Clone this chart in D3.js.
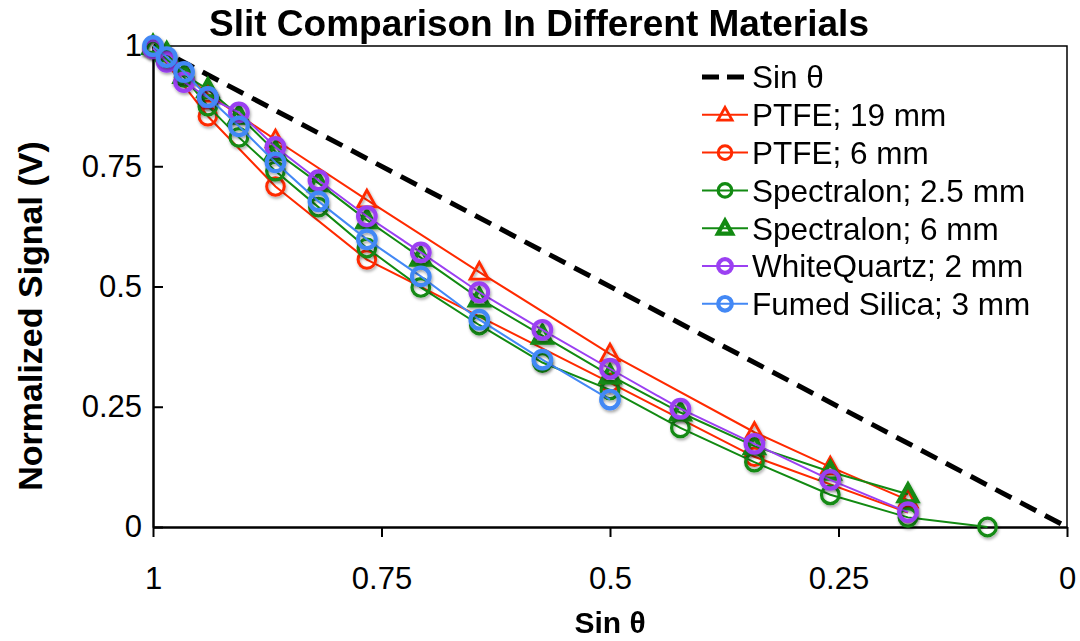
<!DOCTYPE html>
<html>
<head>
<meta charset="utf-8">
<script src="https://cdn.jsdelivr.net/npm/d3@7"></script>
<style>
  html, body { margin: 0; padding: 0; background: #fff; }
  svg { display: block; font-family: "Liberation Sans", Arial, sans-serif; }
</style>
</head>
<body>
<svg id="chart" width="1080" height="641"></svg>
<script>
// ---- data ----
const xTicks = [1, 0.75, 0.5, 0.25, 0];
const xTickLabels = ["1", "0.75", "0.5", "0.25", "0"];
const yTicks = [0, 0.25, 0.5, 0.75, 1];
const yTickLabels = ["0", "0.25", "0.5", "0.75", "1"];

// reference line: signal = sin θ
const sinLineX = [1, 0];
const sinLineY = [1, 0];

const ptfe19X = [1.0, 0.940, 0.866, 0.766, 0.643, 0.500, 0.342, 0.259, 0.174];
const ptfe19Y = [1.0, 0.900, 0.805, 0.680, 0.530, 0.360, 0.197, 0.125, 0.056];

const ptfe6X = [1.0, 0.940, 0.866, 0.766, 0.500, 0.342, 0.174];
const ptfe6Y = [1.0, 0.854, 0.708, 0.556, 0.300, 0.146, 0.030];

const spec25X = [1.0, 0.985, 0.966, 0.940, 0.906, 0.866, 0.819, 0.766, 0.707, 0.643, 0.574, 0.500, 0.423, 0.342, 0.259, 0.174, 0.087];
const spec25Y = [0.995, 0.975, 0.935, 0.875, 0.810, 0.740, 0.665, 0.580, 0.498, 0.420, 0.342, 0.285, 0.206, 0.135, 0.067, 0.020, 0.0];

const spec6X = [1.0, 0.985, 0.966, 0.940, 0.906, 0.866, 0.819, 0.766, 0.707, 0.643, 0.574, 0.500, 0.423, 0.342, 0.259, 0.174];
const spec6Y = [1.0, 0.985, 0.940, 0.910, 0.855, 0.780, 0.715, 0.638, 0.560, 0.475, 0.398, 0.315, 0.238, 0.168, 0.115, 0.068];

const quartzX = [1.0, 0.985, 0.966, 0.940, 0.906, 0.866, 0.819, 0.766, 0.707, 0.643, 0.574, 0.500, 0.423, 0.342, 0.259, 0.174];
const quartzY = [0.995, 0.967, 0.925, 0.893, 0.862, 0.790, 0.721, 0.646, 0.571, 0.488, 0.410, 0.329, 0.246, 0.173, 0.098, 0.031];

const silicaX = [1.0, 0.985, 0.966, 0.940, 0.906, 0.866, 0.819, 0.766, 0.707, 0.643, 0.574, 0.500];
const silicaY = [1.0, 0.977, 0.946, 0.894, 0.833, 0.758, 0.677, 0.598, 0.521, 0.431, 0.348, 0.265];

const seriesNames = ["PTFE; 19 mm", "PTFE; 6 mm", "Spectralon; 2.5 mm", "Spectralon; 6 mm", "WhiteQuartz; 2 mm", "Fumed Silica; 3 mm"];

// ---- series styling ----
const series = [
  { name: seriesNames[0], xs: ptfe19X, ys: ptfe19Y, color: "#ff2a00", shape: "triangle", sw: 2.8 },
  { name: seriesNames[1], xs: ptfe6X,  ys: ptfe6Y,  color: "#ff2a00", shape: "circle",   sw: 3.0 },
  { name: seriesNames[2], xs: spec25X, ys: spec25Y, color: "#128a12", shape: "circle",   sw: 3.2 },
  { name: seriesNames[3], xs: spec6X,  ys: spec6Y,  color: "#128a12", shape: "triangle", sw: 4.2 },
  { name: seriesNames[4], xs: quartzX, ys: quartzY, color: "#9b40f2", shape: "circle",   sw: 4.2 },
  { name: seriesNames[5], xs: silicaX, ys: silicaY, color: "#4388f5", shape: "circle",   sw: 4.2 }
];

const svg = d3.select("#chart");
const plotL = 153, plotR = 1067, plotT = 46, plotB = 527;

const x = d3.scaleLinear().domain([1, 0]).range([plotL, plotR]);
const y = d3.scaleLinear().domain([0, 1]).range([plotB, plotT]);

// soft marker shadow
const defs = svg.append("defs");
const f = defs.append("filter").attr("id", "mshadow").attr("x", "-50%").attr("y", "-50%").attr("width", "200%").attr("height", "200%");
f.append("feDropShadow").attr("dx", 1).attr("dy", 2).attr("stdDeviation", 1.5)
  .attr("flood-color", "#000").attr("flood-opacity", 0.35);

// plot frame (top and right)
svg.append("path")
  .attr("d", `M${plotL},${plotT}H${plotR}V${plotB}`)
  .attr("fill", "none").attr("stroke", "#000").attr("stroke-width", 1.5);

// axes
const xAxis = d3.axisBottom(x).tickValues(xTicks)
  .tickFormat((d, i) => xTickLabels[i]).tickSizeInner(10).tickSizeOuter(0).tickPadding(30);
const yAxis = d3.axisLeft(y).tickValues(yTicks)
  .tickFormat((d, i) => yTickLabels[i]).tickSizeInner(-10).tickSizeOuter(0).tickPadding(11);

const gx = svg.append("g").attr("transform", `translate(0,${plotB})`).call(xAxis);
const gy = svg.append("g").attr("transform", `translate(${plotL},0)`).call(yAxis);
[gx, gy].forEach(g => {
  g.select(".domain").attr("stroke", "#000").attr("stroke-width", 2.5);
  g.selectAll(".tick line").attr("stroke", "#000").attr("stroke-width", 2);
  g.selectAll(".tick text").attr("fill", "#000").style("font-size", "31px")
    .style("font-family", "'Liberation Sans', Arial, sans-serif");
});

// sin θ reference line
const line = d3.line().x(d => x(d[0])).y(d => y(d[1]));
svg.append("path")
  .datum(sinLineX.map((v, i) => [v, sinLineY[i]]))
  .attr("d", line)
  .attr("fill", "none").attr("stroke", "#000").attr("stroke-width", 5)
  .attr("stroke-dasharray", "18,10");

// marker drawing
const triPath = s => `M0,${-s}L${s * 0.95},${s * 0.72}L${-s * 0.95},${s * 0.72}Z`;
function drawMarker(g, shape, color, sw, size) {
  if (shape === "circle") {
    g.append("circle").attr("r", size).attr("fill", "none")
      .attr("stroke", color).attr("stroke-width", sw);
  } else {
    g.append("path").attr("d", triPath(size * 1.1)).attr("fill", "none")
      .attr("stroke", color).attr("stroke-width", sw).attr("stroke-linejoin", "miter");
  }
}

series.forEach(s => {
  const pts = s.xs.map((v, i) => [v, s.ys[i]]);
  const g = svg.append("g");
  g.append("path").datum(pts).attr("d", line)
    .attr("fill", "none").attr("stroke", s.color).attr("stroke-width", 2);
  const mg = g.append("g").attr("filter", "url(#mshadow)");
  pts.forEach(p => {
    const m = mg.append("g").attr("transform", `translate(${x(p[0])},${y(p[1])})`);
    drawMarker(m, s.shape, s.color, s.sw, 8.8);
  });
});

// legend
const legX0 = 702, legX1 = 748, legText = 752, legY0 = 77, legStep = 37.8;
const leg = svg.append("g");
const l0 = leg.append("g").attr("transform", `translate(0,${legY0})`);
l0.append("line").attr("x1", legX0).attr("x2", legX1 + 2).attr("y1", 0).attr("y2", 0)
  .attr("stroke", "#000").attr("stroke-width", 5).attr("stroke-dasharray", "17,8");
l0.append("text").attr("x", legText).attr("y", 0).attr("dy", "0.36em")
  .style("font-size", "31.5px").text("Sin θ");

series.forEach((s, i) => {
  const r = leg.append("g").attr("transform", `translate(0,${legY0 + legStep * (i + 1)})`);
  r.append("line").attr("x1", legX0).attr("x2", legX1).attr("y1", 0).attr("y2", 0)
    .attr("stroke", s.color).attr("stroke-width", 2);
  const m = r.append("g").attr("transform", `translate(${(legX0 + legX1) / 2},0)`);
  drawMarker(m, s.shape, s.color, s.sw, 6.8);
  r.append("text").attr("x", legText).attr("y", 0).attr("dy", "0.36em")
    .style("font-size", "31.5px").text(s.name);
});

// titles
svg.append("text").attr("x", 539).attr("y", 36).attr("text-anchor", "middle")
  .style("font-size", "37px").style("font-weight", "bold")
  .text("Slit Comparison In Different Materials");

svg.append("text").attr("x", 610).attr("y", 633).attr("text-anchor", "middle")
  .style("font-size", "30px").style("font-weight", "bold")
  .text("Sin θ");

svg.append("text").attr("transform", "translate(42,316) rotate(-90)").attr("text-anchor", "middle")
  .style("font-size", "34px").style("font-weight", "bold")
  .text("Normalized Signal (V)");
</script>
</body>
</html>
